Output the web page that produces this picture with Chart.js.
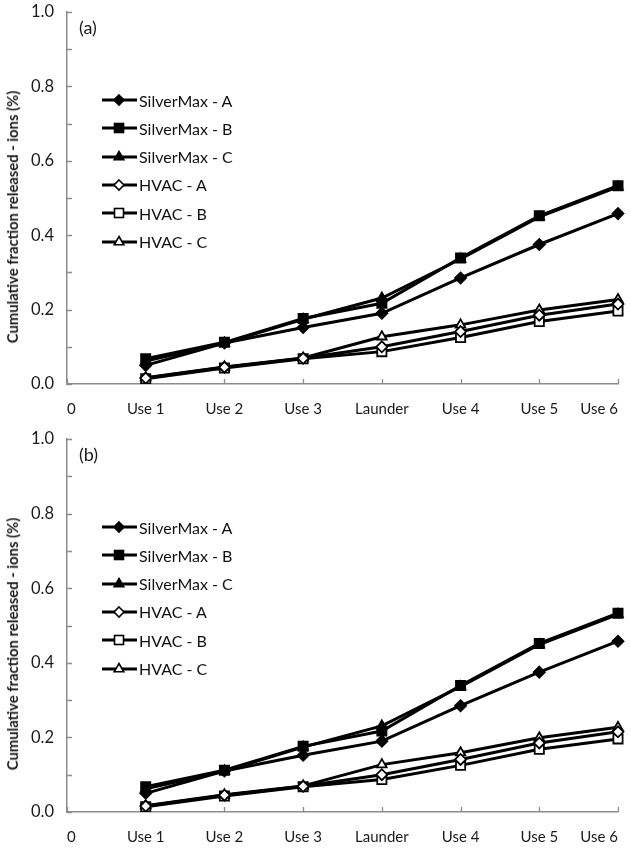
<!DOCTYPE html>
<html><head><meta charset="utf-8">
<script src="https://cdn.jsdelivr.net/npm/chart.js@4.4.1/dist/chart.umd.min.js"></script>
<style>
html,body{margin:0;padding:0;background:#fff;}
#wrap{position:relative;width:631px;height:848px;font-family:Lato,'Open Sans',sans-serif;overflow:hidden;}
.panel{position:absolute;left:0;width:631px;height:424px;}
.panel canvas{position:absolute;left:0;top:0;}
.ytitle{position:absolute;white-space:nowrap;font-weight:bold;font-size:14.8px;color:#1a1a1a;line-height:16px;transform-origin:center;transform:translate(-50%,-50%) rotate(-90deg);}
.plabel{position:absolute;font-size:18px;line-height:20px;color:#1a1a1a;}
.lrow{position:absolute;height:20px;display:flex;align-items:center;white-space:nowrap;font-size:16px;color:#111;}
.lrow svg{margin-right:2px;}
</style></head>
<body>
<div id="wrap">
  <div class="panel" id="pa" style="top:0">
    <canvas id="ca" width="631" height="424"></canvas>
  </div>
  <div class="panel" id="pb" style="top:424px">
    <canvas id="cb" width="631" height="424"></canvas>
  </div>
</div>
<script>
// ---- data ----
const categories = ['0', 'Use 1', 'Use 2', 'Use 3', 'Launder', 'Use 4', 'Use 5', 'Use 6'];
const seriesNames = ['SilverMax - A', 'SilverMax - B', 'SilverMax - C', 'HVAC - A', 'HVAC - B', 'HVAC - C'];
const silverMaxA = [null, 0.050, 0.110, 0.152, 0.190, 0.285, 0.375, 0.458];
const silverMaxB = [null, 0.068, 0.112, 0.176, 0.217, 0.339, 0.452, 0.533];
const silverMaxC = [null, 0.062, 0.110, 0.174, 0.231, 0.336, 0.449, 0.530];
const hvacA      = [null, 0.016, 0.045, 0.069, 0.100, 0.141, 0.185, 0.215];
const hvacB      = [null, 0.014, 0.043, 0.068, 0.087, 0.125, 0.168, 0.196];
const hvacC      = [null, 0.017, 0.046, 0.070, 0.127, 0.159, 0.199, 0.227];
const yTickValues = [0, 0.2, 0.4, 0.6, 0.8, 1.0];
const yTitle = 'Cumulative fraction released - ions (%)';
const panelLabels = ['(a)', '(b)'];

const seriesValues = [silverMaxA, silverMaxB, silverMaxC, hvacA, hvacB, hvacC];
const markerStyles = [
  {shape:'rectRot',  filled:true,  r:5.5},
  {shape:'rect',     filled:true,  r:6.5},
  {shape:'triangle', filled:true,  r:5.5},
  {shape:'rectRot',  filled:false, r:5.5},
  {shape:'rect',     filled:false, r:6.5},
  {shape:'triangle', filled:false, r:5.5}
];
const FONT = 'Lato, "Open Sans", sans-serif';
const AXIS = '#8c8c8c';
const TXT = '#1a1a1a';

const innerTicks = {
  id: 'innerTicks',
  beforeDatasetsDraw(chart) {
    const {ctx, chartArea: a, scales: {x, y}} = chart;
    ctx.save();
    ctx.strokeStyle = AXIS; ctx.lineWidth = 1.3;
    ctx.beginPath();
    y.ticks.forEach((t, i) => {
      const py = Math.round(y.getPixelForTick(i)) + 0.5;
      ctx.moveTo(a.left, py); ctx.lineTo(a.left + 5, py);
    });
    x.ticks.forEach((t, i) => {
      const px = Math.round(x.getPixelForTick(i)) + 0.5;
      ctx.moveTo(px, a.bottom); ctx.lineTo(px, a.bottom - 5);
    });
    ctx.stroke();
    ctx.restore();
  }
};

function makeChart(canvas, padTop, axisH) {
  const datasets = seriesNames.map((name, i) => ({
    label: name,
    data: seriesValues[i],
    borderColor: '#000',
    borderWidth: 3,
    tension: 0,
    pointStyle: markerStyles[i].shape,
    pointRadius: markerStyles[i].r,
    pointBackgroundColor: markerStyles[i].filled ? '#000' : '#fff',
    pointBorderColor: '#000',
    pointBorderWidth: 1.8,
    spanGaps: false
  }));
  return new Chart(canvas, {
    type: 'line',
    data: {labels: categories, datasets},
    options: {
      responsive: false,
      animation: false,
      events: [],
      layout: {padding: {left: 0, right: 13, top: padTop, bottom: 0}},
      plugins: {legend: {display: false}, tooltip: {enabled: false}},
      scales: {
        x: {
          type: 'category', offset: false,
          grid: {display: true, drawOnChartArea: false, drawTicks: false},
          border: {display: true, color: AXIS, width: 1.5},
          ticks: {color: TXT, font: {family: FONT, size: 15}, padding: 16, align: 'inner', maxRotation: 0, autoSkip: false},
          afterFit(s) { s.height = axisH; s.paddingLeft = 0; s.paddingRight = 0; }
        },
        y: {
          type: 'linear', min: 0, max: 1,
          grid: {display: true, drawOnChartArea: false, drawTicks: false},
          border: {display: true, color: AXIS, width: 1.5},
          ticks: {
            stepSize: 0.1, autoSkip: false, color: TXT, font: {family: FONT, size: 16.5}, padding: 13,
            callback: (v) => {
              const m = yTickValues.find(t => Math.abs(t - v) < 1e-6);
              return m === undefined ? '' : m.toFixed(1);
            }
          },
          afterFit(s) { s.width = 67; s.paddingTop = 0; s.paddingBottom = 0; }
        }
      }
    },
    plugins: [innerTicks]
  });
}

function markerSVG(m) {
  const cx = 17, cy = 8, fill = m.filled ? '#000' : '#fff';
  let shape = '';
  if (m.shape === 'rectRot') {
    const r = 5;
    shape = `<polygon points="${cx},${cy-r} ${cx+r},${cy} ${cx},${cy+r} ${cx-r},${cy}" fill="${fill}" stroke="#000" stroke-width="1.6"/>`;
  } else if (m.shape === 'rect') {
    const h = 4.5;
    shape = `<rect x="${cx-h}" y="${cy-h}" width="${2*h}" height="${2*h}" fill="${fill}" stroke="#000" stroke-width="1.6"/>`;
  } else {
    const r = 5.5;
    shape = `<polygon points="${cx},${cy-r} ${cx+r*0.87},${cy+r*0.5} ${cx-r*0.87},${cy+r*0.5}" fill="${fill}" stroke="#000" stroke-width="1.6"/>`;
  }
  return `<svg width="35" height="16" viewBox="0 0 35 16"><line x1="0" y1="${cy}" x2="35" y2="${cy}" stroke="#000" stroke-width="3"/>${shape}</svg>`;
}

function decorate(panel, label, chartTop) {
  const t = document.createElement('div');
  t.className = 'ytitle'; t.textContent = yTitle;
  t.style.left = '12px'; t.style.top = (chartTop + 205) + 'px';
  panel.appendChild(t);
  const p = document.createElement('div');
  p.className = 'plabel'; p.textContent = label;
  p.style.left = '79px'; p.style.top = (chartTop + 5) + 'px';
  panel.appendChild(p);
  seriesNames.forEach((name, i) => {
    const row = document.createElement('div');
    row.className = 'lrow';
    row.style.left = '102px';
    row.style.top = (chartTop + 88 + i * 28.3 - 10) + 'px';
    row.innerHTML = markerSVG(markerStyles[i]);
    const s = document.createElement('span'); s.textContent = name;
    row.appendChild(s);
    panel.appendChild(row);
  });
}

makeChart(document.getElementById('ca'), 12, 40);
makeChart(document.getElementById('cb'), 15, 36);
decorate(document.getElementById('pa'), panelLabels[0], 12);
decorate(document.getElementById('pb'), panelLabels[1], 15);
</script>
</body></html>
